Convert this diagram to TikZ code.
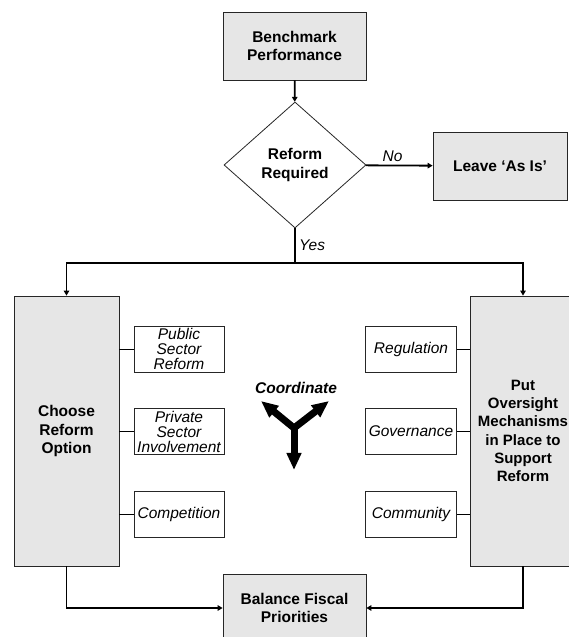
\documentclass[tikz,border=0pt]{standalone}
\usepackage{fontspec}
\setmainfont{Liberation Sans}
\usetikzlibrary{shapes.geometric,arrows.meta,positioning}

\definecolor{boxgray}{RGB}{230,230,230}

\tikzstyle{block} = [rectangle, draw=black!85, line width=0.8pt, fill=boxgray,
    align=center, font={\fontsize{15.5}{18.3}\selectfont\bfseries}]
\tikzstyle{decision} = [diamond, draw=black!85, line width=0.8pt, fill=white,
    inner sep=0pt, align=center, font={\fontsize{15.5}{18.3}\selectfont\bfseries}]
\tikzstyle{option} = [rectangle, draw=black!85, line width=0.8pt, fill=white,
    minimum width=90pt, minimum height=46pt, inner sep=1pt, align=center,
    font={\fontsize{15.5}{15}\selectfont\itshape}]
\tikzstyle{line} = [draw, line width=1.8pt, -{Triangle[length=5pt,width=5.5pt]}]
\tikzstyle{link} = [draw, line width=0.9pt]
\tikzstyle{fat} = [line width=7pt, -{Triangle[length=17pt,width=14pt]}]

\begin{document}
\begin{tikzpicture}[x=1pt, y=1pt]
    \useasboundingbox (0,0) rectangle (568,637);
    % Place nodes
    \node [block, minimum width=143pt, minimum height=68pt] (bench) at (294.5,591) {Benchmark\\Performance};
    \node [decision, minimum width=142pt, minimum height=126pt] (reform) at (295,472) {Reform\\Required};
    \node [block, minimum width=134pt, minimum height=68pt] (leave) at (500,471) {Leave ‘As Is’};
    \node [block, minimum width=105pt, minimum height=270pt] (choose) at (66.5,206) {Choose\\Reform\\Option};
    \node [block, minimum width=105pt, minimum height=270pt, font={\fontsize{15}{18.3}\selectfont\bfseries}] (oversight) at (523,206) {Put\\Oversight\\Mechanisms\\in Place to\\Support\\Reform};
    \node [block, minimum width=143pt, minimum height=68pt] (balance) at (294.5,29) {Balance Fiscal\\Priorities};

    \node [option] (public) at (179,288) {Public\\Sector\\Reform};
    \node [option] (private) at (179,205.5) {Private\\Sector\\Involvement};
    \node [option] (competition) at (179,123) {Competition};
    \node [option, minimum width=91pt] (regulation) at (411,288) {Regulation};
    \node [option, minimum width=91pt] (governance) at (411,205.5) {Governance};
    \node [option, minimum width=91pt] (community) at (411,123) {Community};

    \coordinate (split) at (295,374);
    \coordinate (hub) at (294,209);
    \node [font={\fontsize{15.5}{18}\selectfont\bfseries\itshape}] (coord) at (296,249) {Coordinate};

    % Draw edges
    \path [line] (bench) -- (reform);
    \path [line] (reform) -- node [above, pos=0.4, font={\fontsize{15.5}{18}\selectfont\itshape}] {No} (leave);
    \draw [line width=1.8pt] (reform.south) -- node [right, pos=0.5, font={\fontsize{15.5}{18}\selectfont\itshape}] {Yes} (split);
    \path [line] (split) -| (choose.north);
    \path [line] (split) -| (oversight.north);
    \path [line] (choose.south) |- (balance.west);
    \path [line] (oversight.south) |- (balance.east);

    \path [link] (choose.east |- public) -- (public);
    \path [link] (choose.east |- private) -- (private);
    \path [link] (choose.east |- competition) -- (competition);
    \path [link] (regulation) -- (oversight.west |- regulation);
    \path [link] (governance) -- (oversight.west |- governance);
    \path [link] (community) -- (oversight.west |- community);

    % Coordinate arrows
    \draw [fat] (hub) -- (261,236);
    \draw [fat] (hub) -- (329,236);
    \draw [fat] ([yshift=4pt]hub) -- (294,167);

\end{tikzpicture}
\end{document}
